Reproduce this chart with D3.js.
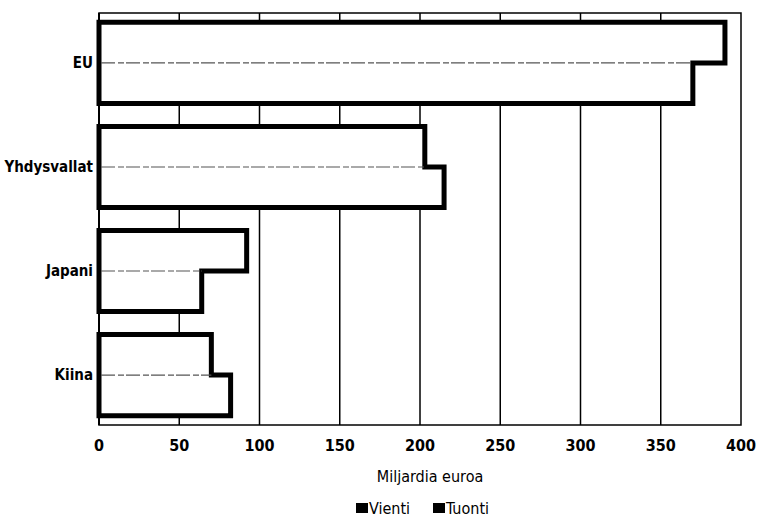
<!DOCTYPE html>
<html><head><meta charset="utf-8">
<script src="https://cdn.jsdelivr.net/npm/d3@7"></script>
<style>
body{margin:0;background:#fff;}
text{font-family:"DejaVu Sans Condensed","Liberation Sans Narrow","Open Sans",sans-serif;fill:#000;}
</style></head>
<body><svg id="c" width="760" height="520"></svg>
<script>
const categories = ["EU","Yhdysvallat","Japani","Kiina"];
const vienti = [390, 203, 92, 70];
const tuonti = [370, 215, 64, 82];
const seriesNames = ["Vienti","Tuonti"];
const xTicks = [0,50,100,150,200,250,300,350,400];
const xTitle = "Miljardia euroa";

const svg = d3.select("#c");
const L=99, R=741, T=13, B=425;
const x = d3.scaleLinear().domain([0,400]).range([L,R]);
const y = d3.scaleBand().domain(categories).range([T,B]).paddingInner(0.22).paddingOuter(0.09);

// grid lines
svg.append("g").selectAll("line").data(xTicks.filter(d=>d>0&&d<400)).join("line")
  .attr("x1",d=>x(d)).attr("x2",d=>x(d)).attr("y1",T).attr("y2",B)
  .attr("stroke","#000").attr("stroke-width",1.5);
// box
svg.append("rect").attr("x",L).attr("y",T).attr("width",R-L).attr("height",B-T)
  .attr("fill","none").attr("stroke","#000").attr("stroke-width",1.5);

const data = categories.map((c,i)=>({c, v:vienti[i], t:tuonti[i]}));
const g = svg.append("g");
data.forEach(d=>{
  const top=y(d.c), bw=y.bandwidth(), mid=top+bw/2, bot=top+bw;
  const p = d3.path();
  p.moveTo(x(0),top); p.lineTo(x(d.v),top); p.lineTo(x(d.v),mid);
  p.lineTo(x(d.t),mid); p.lineTo(x(d.t),bot); p.lineTo(x(0),bot); p.closePath();
  g.append("path").attr("d",p.toString()).attr("fill","#fff")
    .attr("stroke","#000").attr("stroke-width",5).attr("stroke-linejoin","miter");
  g.append("line").attr("x1",x(0)+2).attr("x2",x(Math.min(d.v,d.t))).attr("y1",mid).attr("y2",mid)
    .attr("stroke","#555").attr("stroke-width",1.2).attr("stroke-dasharray","14,3,6,2");
});
// left axis line
svg.append("line").attr("x1",L).attr("x2",L).attr("y1",T).attr("y2",B).attr("stroke","#000").attr("stroke-width",2);

// y labels
svg.append("g").selectAll("text").data(categories).join("text")
  .attr("x",L-6).attr("y",d=>y(d)+y.bandwidth()/2).attr("dy","0.35em")
  .attr("text-anchor","end").attr("font-size",15).attr("font-weight","bold").text(d=>d);

// x tick labels
svg.append("g").selectAll("text").data(xTicks).join("text")
  .attr("x",d=>x(d)).attr("y",451).attr("text-anchor","middle")
  .attr("font-size",16).attr("font-weight","bold").text(d=>d);

svg.append("text").attr("x",430).attr("y",482).attr("text-anchor","middle")
  .attr("font-size",16).text(xTitle);

// legend
const lx=[356,433];
seriesNames.forEach((s,i)=>{
  svg.append("rect").attr("x",lx[i]).attr("y",503).attr("width",12).attr("height",10).attr("fill","#000");
  svg.append("text").attr("x",lx[i]+13).attr("y",514).attr("font-size",16).text(s);
});
</script></body></html>
